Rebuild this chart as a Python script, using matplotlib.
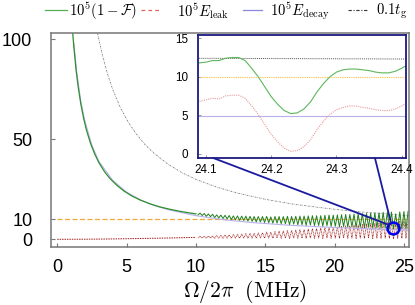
import numpy as np
import matplotlib
matplotlib.use("Agg")
import matplotlib.pyplot as plt
from matplotlib.lines import Line2D
from matplotlib.patches import ConnectionPatch

plt.rcParams['mathtext.fontset'] = 'cm'
plt.rcParams['font.family'] = ['Liberation Sans', 'DejaVu Sans']

# ---- main panel data ----
omega_smooth = [1.1, 1.2, 1.35, 1.5, 1.7, 1.9, 2.1, 2.4, 2.7, 3.0, 3.4, 3.8, 4.3, 4.8,
                5.4, 6.0, 6.7, 7.4, 8.2, 9.0, 10.0]
fid_smooth = [104.5, 96, 85.2, 76.7, 67.7, 60.6, 54.8, 48, 42.7, 38.4, 33.9, 30.4, 27,
              24.2, 21.6, 19.6, 17.7, 16.2, 14.9, 13.8, 12.7]

omega_leak_smooth = [0, 1, 2, 3, 4, 5, 6, 7, 8, 9, 10]
leak_smooth = [0, 0.02, 0.05, 0.1, 0.18, 0.28, 0.4, 0.52, 0.65, 0.8, 0.95]

# oscillating part, alternating low / high samples every 0.15 MHz from 10.15 MHz
leak_osc = [0.6, 1.5, 0.6, 1.6, 0.5, 1.7, 0.6, 1.8, 0.5, 1.8, 0.6, 2.0, 0.5, 2.1,
            0.6, 2.3, 0.5, 2.3, 0.6, 2.5, 0.5, 2.6, 0.6, 2.8, 0.5, 2.9, 0.6, 3.0,
            0.5, 3.2, 0.7, 3.3, 0.5, 3.6, 0.6, 3.5, 0.5, 3.8, 0.7, 4.0, 0.5, 4.1,
            0.6, 4.3, 0.4, 4.4, 0.7, 4.6, 0.5, 4.8, 0.6, 4.9, 0.4, 5.1, 0.7, 5.3,
            0.5, 5.4, 0.6, 5.6, 0.4, 5.8, 0.7, 6.0, 0.5, 6.1, 0.6, 6.3, 0.4, 6.5,
            0.7, 6.7, 0.5, 6.8, 0.6, 7.1, 0.4, 7.2, 0.6, 7.4, 0.4, 7.6, 0.7, 7.8,
            0.4, 8.0, 0.6, 8.1, 0.4, 8.4, 0.6, 8.5, 0.4, 8.7, 0.3, 7.8, 0.5, 8.9,
            0.4, 9.1, 0.5, 9.3]
fid_osc = [12.2, 13.1, 11.9, 12.9, 11.5, 12.7, 11.3, 12.5, 10.9, 12.2, 10.7, 12.1,
           10.4, 12.0, 10.2, 11.9, 9.9, 11.7, 9.8, 11.7, 9.5, 11.6, 9.4, 11.6, 9.1, 11.5,
           9.0, 11.4, 8.7, 11.4, 8.7, 11.4, 8.4, 11.5, 8.3, 11.2, 8.1, 11.4, 8.1, 11.4,
           7.8, 11.4, 7.8, 11.5, 7.4, 11.4, 7.6, 11.5, 7.3, 11.6, 7.3, 11.6, 7.0, 11.7,
           7.2, 11.8, 6.9, 11.8, 6.9, 11.8, 6.6, 12.0, 6.8, 12.1, 6.5, 12.1, 6.5, 12.2,
           6.2, 12.3, 6.4, 12.4, 6.1, 12.4, 6.2, 12.6, 5.9, 12.7, 6.0, 12.8, 5.7, 12.9,
           6.0, 13.1, 5.6, 13.2, 5.7, 13.2, 5.5, 13.5, 5.6, 13.5, 5.3, 13.6, 5.2, 12.7,
           5.3, 13.7, 5.2, 13.9, 5.2, 14.0]
omega_osc = np.linspace(10.15, 25.3, len(leak_osc))

omega_decay = [1.2, 1.4, 1.7, 2, 2.5, 3, 4, 5, 6, 7, 8, 10, 12, 14, 17, 20, 23, 25.4]
decay = [98, 84, 69, 59, 47, 39, 29.5, 23.6, 19.7, 16.9, 14.8, 11.8, 9.8, 8.4, 6.9,
         5.9, 5.1, 4.6]

omega_tg = [2.8, 3.0, 3.3, 3.6, 4.0, 4.5, 5.0, 5.6, 6.3, 7.0, 8.0, 9.0, 10.0, 11.5,
            13, 15, 17, 19.5, 22, 25.4]
tg = [107, 100, 90.9, 83.3, 75, 66.7, 60, 53.6, 47.6, 42.9, 37.5, 33.3, 30, 26.1,
      23.1, 20, 17.6, 15.4, 13.6, 11.8]

ref_level = 10

# ---- inset data ----
inset_omega = [24.09, 24.10, 24.11, 24.12, 24.13, 24.14, 24.15, 24.16, 24.17, 24.18,
               24.19, 24.20, 24.21, 24.22, 24.23, 24.24, 24.25, 24.26, 24.27, 24.28,
               24.29, 24.30, 24.31, 24.32, 24.33, 24.34, 24.35, 24.36, 24.37, 24.38,
               24.39, 24.40, 24.41]
inset_fid = [11.8, 11.9, 12.1, 12.1, 12.4, 12.5, 12.5, 12.1, 11.1, 10.0, 8.7, 7.4, 6.4,
             5.6, 5.2, 5.3, 5.8, 6.7, 8.0, 9.1, 10.0, 10.6, 10.9, 11.0, 11.0, 10.9,
             10.8, 10.6, 10.5, 10.5, 10.7, 11.1, 11.6]
inset_leak = [6.8, 7.0, 7.2, 7.1, 7.5, 7.6, 7.6, 7.2, 6.2, 5.1, 3.8, 2.5, 1.5, 0.7, 0.3,
              0.4, 0.9, 1.8, 3.1, 4.2, 5.1, 5.7, 6.0, 6.2, 6.2, 6.0, 5.9, 5.7, 5.6, 5.6,
              5.8, 6.2, 6.7]
inset_span = [24.08, 24.42]
inset_tg = [12.4, 12.3]
inset_decay = [4.9, 4.9]

# ---- figure ----
fig = plt.figure(figsize=(4.15, 3.05), dpi=100)
ax = fig.add_axes([0.1229, 0.1902, 0.8638, 0.7016])

ax.plot([0, 25.3], [ref_level, ref_level], color='#f2a93b', lw=0.9, ls=(0, (4, 2)))
ax.plot(omega_leak_smooth, leak_smooth, color='#a01818', lw=0.7, ls=(0, (1.5, 1)))
ax.plot(omega_osc, leak_osc, color='#a01818', lw=0.6, ls=(0, (1, 0.8)))
ax.plot(omega_decay, decay, color='#b8b0ec', lw=0.8)
ax.plot(omega_tg, tg, color='#7a7a7a', lw=0.6, ls=(0, (2, 1.2, 0.6, 1.2)))
ax.plot(omega_smooth, fid_smooth, color='#2f8f2f', lw=0.9)
ax.plot(omega_osc, fid_osc, color='#1f801f', lw=0.7)

ax.set_xlim(-0.45, 25.4)
ax.set_ylim(-3.85, 103.2)
ax.set_xticks([0, 5, 10, 15, 20, 25])
ax.set_yticks([0, 10, 50, 100])
for s in ax.spines.values():
    s.set_color('#777777')
    s.set_linewidth(1.1)
ax.tick_params(direction='in', length=3, width=0.8, color='#777777', labelsize=13)
ax.tick_params(axis='y', pad=13.5)
ax.tick_params(axis='x', pad=8.5)

fig.text(0.590, 0.043, r'$\Omega/2\pi\ \ (\mathrm{MHz})$', ha='center', va='center',
         fontsize=15.5)

# zoom marker
ax.plot([24.23], [5.5], 'o', ms=8.5, mfc='none', mec='#0000ee', mew=1.8, zorder=6)

# ---- inset ----
ins = fig.add_axes([0.4771, 0.482, 0.5012, 0.4033])
ins.plot(inset_span, [ref_level, ref_level], color='#ffc040', lw=0.8, ls=(0, (1, 1)))
ins.plot(inset_span, inset_tg, color='#555555', lw=0.7, ls=(0, (1, 1)))
ins.plot(inset_span, inset_decay, color='#b8b0ec', lw=0.8)
ins.plot(inset_omega, inset_leak, color='#e89a9a', lw=0.8, ls=(0, (1, 1)))
ins.plot(inset_omega, inset_fid, color='#5cb85c', lw=0.8)
ins.set_xlim(24.0877, 24.4066)
ins.set_ylim(-0.57, 15.43)
ins.set_xticks([24.1, 24.2, 24.3, 24.4])
ins.set_yticks([0, 5, 10, 15])
for s in ins.spines.values():
    s.set_color('#1a1a80')
    s.set_linewidth(1.3)
ins.tick_params(direction='in', length=2, width=0.6, color='#888888', labelsize=8.4)
ins.tick_params(axis='y', pad=7)
ins.tick_params(axis='x', pad=4)

for xa, xb, yb in [(24.111, 23.92, 7.2), (24.359, 24.06, 8.4)]:
    con = ConnectionPatch(xyA=(xa, -0.57), coordsA=ins.transData,
                          xyB=(xb, yb), coordsB=ax.transData,
                          color='#1a1aa0', lw=1.3)
    fig.add_artist(con)

# ---- legend, placed by hand along the top ----
W, H = 415.0, 305.0
legend_items = [
    (r'$10^5(1-\mathcal{F})$', dict(color='#55b055', lw=0.9), 45, 67, 69),
    (r'$10^5E_{\rm leak}$', dict(color='#e06060', lw=0.9, ls=(0, (3, 2.5))), 141, 160, 177),
    (r'$10^5E_{\rm decay}$', dict(color='#8888dd', lw=0.9), 243, 262, 270),
    (r'$0.1t_{\rm g}$', dict(color='#333333', lw=0.8, ls=(0, (3, 1.5, 1, 1.5))), 348, 367, 376),
]
for text, style, x0, x1, xt in legend_items:
    fig.add_artist(Line2D([x0 / W, x1 / W], [1 - 9.5 / H, 1 - 9.5 / H], **style))
    fig.text(xt / W, 1 - 11 / H, text, ha='left', va='center', fontsize=10.6)

fig.savefig('out.png', dpi=100)
